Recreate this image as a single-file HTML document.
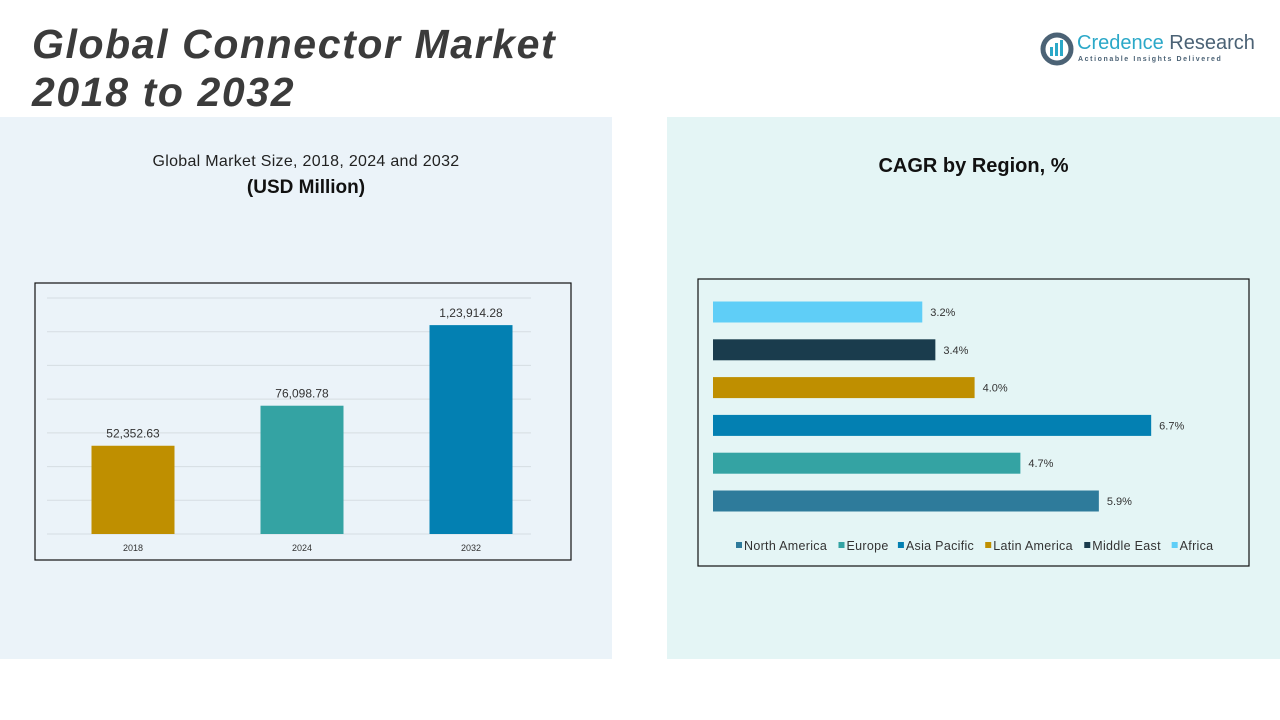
<!DOCTYPE html>
<html><head><meta charset="utf-8"><style>
body{margin:0;width:1280px;height:720px;position:relative;background:#fff;font-family:"Liberation Sans",sans-serif;overflow:hidden}
.abs{position:absolute}
</style></head><body>
<div class="abs" style="left:0;top:117px;width:612px;height:542px;background:#ebf3f9"></div>
<div class="abs" style="left:667px;top:117px;width:613px;height:542px;background:#e4f5f5"></div>
<div class="abs" style="left:32px;top:20px;font-size:41px;line-height:48px;font-weight:bold;font-style:italic;color:#3b3b3b;letter-spacing:1.6px">Global Connector Market<br>2018 to 2032</div>
<div class="abs" style="left:1040px;top:32px;width:230px;height:36px">
<svg width="34" height="34" viewBox="0 0 34 34" style="position:absolute;left:0;top:0"><circle cx="17" cy="17" r="14" fill="none" stroke="#4b6275" stroke-width="5"/><rect x="10" y="15" width="3" height="9" fill="#2ba8c8"/><rect x="15" y="11" width="3" height="13" fill="#2ba8c8"/><rect x="20" y="8" width="3" height="16" fill="#2ba8c8"/></svg>
<div class="abs" style="left:37px;top:0;font-size:20px;color:#2ba8c8;white-space:nowrap">Credence <span style="color:#4b6275">Research</span></div>
<div class="abs" style="left:38px;top:24px;font-size:7px;letter-spacing:1.6px;color:#4b6275;white-space:nowrap;font-weight:bold">Actionable Insights Delivered</div>
</div>
<div class="abs" style="left:0;width:612px;top:153px;text-align:center;font-size:16px;color:#222;letter-spacing:0.3px">Global Market Size, 2018, 2024 and 2032</div>
<div class="abs" style="left:0;width:612px;top:177px;text-align:center;font-size:19px;font-weight:bold;color:#111">(USD Million)</div>
<div class="abs" style="left:667px;width:613px;top:155px;text-align:center;font-size:20px;font-weight:bold;color:#111">CAGR by Region, %</div>
<svg class="abs" id="bar" style="left:0;top:0" width="612" height="600"></svg>
<svg class="abs" id="hbar" style="left:0;top:0" width="1280" height="600"></svg>
<script>
const years=["2018","2024","2032"];
const sizes=[52352.63,76098.78,123914.28];
const sizeLabels=["52,352.63","76,098.78","1,23,914.28"];
const barColors=["#bf8f00","#34a3a3","#0380b2"];
const regions=["North America","Europe","Asia Pacific","Latin America","Middle East","Africa"];
const cagr=[5.9,4.7,6.7,4.0,3.4,3.2];
const regionColors=["#2e7b9b","#34a3a3","#0380b2","#bf8f00","#1a3c4d","#5fcef7"];
const NS="http://www.w3.org/2000/svg";
function mk(p,t,a){const e=document.createElementNS(NS,t);for(const k in a)e.setAttribute(k,a[k]);p.appendChild(e);return e;}
// left chart
const s=document.getElementById('bar');
const base=534,yMax=140000,plotH=236;
const y=v=>base-v/yMax*plotH;
const fr=mk(s,'rect',{x:35,y:283,width:536,height:277,fill:'none',stroke:'#111','stroke-width':1.2});


for(let v=0;v<=yMax;v+=20000){const g=mk(s,'line',{x1:47,x2:531,y1:y(v),y2:y(v),stroke:'#d6dde2','stroke-width':1});

}
const slot=169,x0=49;
years.forEach((yr,i)=>{const cx=x0+slot*i+slot/2-0.5;
const r=mk(s,'rect',{x:cx-41.5,y:y(sizes[i]),width:83,height:base-y(sizes[i]),fill:barColors[i]});


const t=mk(s,'text',{x:cx,y:y(sizes[i])-8,'text-anchor':'middle','font-size':12,fill:'#333'});t.textContent=sizeLabels[i];


const xl=mk(s,'text',{x:cx,y:551,'text-anchor':'middle','font-size':9,fill:'#333'});xl.textContent=yr;

});
// right chart
const h=document.getElementById('hbar');
const fr2=mk(h,'rect',{x:698,y:279,width:551,height:287,fill:'none',stroke:'#111','stroke-width':1.2});


const xs=v=>713+v*65.4;
regions.forEach((rg,i)=>{const cy=501-i*37.8;
const r=mk(h,'rect',{x:713,y:cy-10.5,width:xs(cagr[i])-713,height:21,fill:regionColors[i]});


const t=mk(h,'text',{x:xs(cagr[i])+8,y:cy+4,'font-size':11,fill:'#333'});t.textContent=cagr[i].toFixed(1)+'%';

});
let lx=736;
regions.forEach((rg,i)=>{
const sq=mk(h,'rect',{x:lx,y:542,width:6,height:6,fill:regionColors[i]});


const t=mk(h,'text',{x:lx+8,y:550,'font-size':12.5,fill:'#333','letter-spacing':0.3});t.textContent=rg;


lx+=8+t.getComputedTextLength()+rg.length*0.3+7.5;});
</script>
</body></html>
